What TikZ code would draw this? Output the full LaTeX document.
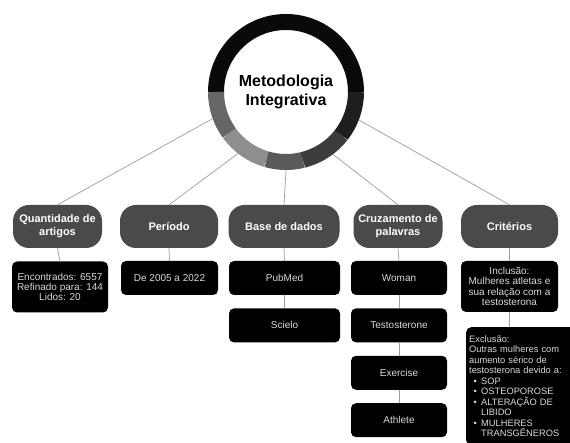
\documentclass[tikz,border=0pt]{standalone}
\usepackage{fontspec}
\setmainfont{Liberation Sans}
\usetikzlibrary{positioning}
\definecolor{headgray}{HTML}{4A4A4A}
\definecolor{linegray}{HTML}{9C9C9C}
\definecolor{boxtext}{HTML}{DADADA}
\definecolor{segA}{HTML}{0A0A0A}
\definecolor{segB}{HTML}{666666}
\definecolor{segC}{HTML}{8E8E8E}
\definecolor{segD}{HTML}{5A5A5A}
\definecolor{segE}{HTML}{3C3C3C}
\definecolor{segF}{HTML}{1E1E1E}
\newcommand{\exitem}[1]{\makebox[12pt][c]{\textbullet}#1}
\newcommand{\excont}[1]{\hspace*{12pt}#1}
\begin{document}
\begin{tikzpicture}[
    x=1pt, y=1pt,
    node distance=13pt,
    header/.style={rectangle, fill=headgray, text=white, rounded corners=16pt, minimum height=43pt,
        align=center, inner sep=2pt, font=\fontsize{11}{13}\selectfont\bfseries},
    leaf/.style={rectangle, fill=black, text=boxtext, rounded corners=5pt, minimum height=34pt,
        align=center, inner sep=2pt, font=\fontsize{10}{10.4}\selectfont},
    link/.style={draw=linegray, line width=0.7pt},
]
\useasboundingbox (0,0) rectangle (570,443);
\node[circle, minimum size=156pt, inner sep=0pt] (ring) at (286,351) {};
\node[header, minimum width=89pt] (qtd) at (57.5,216.5) {Quantidade de\\artigos};
\node[header, minimum width=98pt] (per) at (169,216.5) {Período};
\node[header, minimum width=111pt] (base) at (284,216.5) {Base de dados};
\node[header, minimum width=89pt] (cruz) at (398,216.5) {Cruzamento de\\palavras};
\node[header, minimum width=97pt] (crit) at (509.5,216.5) {Critérios};

\node[leaf, minimum width=96pt, minimum height=51pt] (encont) at (60,156) {Encontrados: 6557\\Refinado para: 144\\Lidos: 20};
\node[leaf, minimum width=97pt] (anos) at (169.5,165) {De 2005 a 2022};
\node[leaf, minimum width=111pt] (pubmed) at (284.5,165) {PubMed};
\node[leaf, minimum width=111pt, below=of pubmed] (scielo) {Scielo};
\node[leaf, minimum width=96pt] (woman) at (399,165) {Woman};
\node[leaf, minimum width=96pt, below=of woman] (testo) {Testosterone};
\node[leaf, minimum width=96pt, below=of testo] (exerc) {Exercise};
\node[leaf, minimum width=96pt, below=of exerc] (athl) {Athlete};
\node[leaf, minimum width=97pt, minimum height=51pt] (incl) at (509.5,156.5) {Inclusão:\\Mulheres atletas e\\sua relação com a\\testosterona};
\node[leaf, anchor=north west, align=left, text width=106pt, minimum height=118pt, inner xsep=3pt, inner ysep=3pt,
    font=\fontsize{9.3}{10.5}\selectfont] (excl) at (466,116)
    {Exclusão:\\Outras mulheres com\\aumento sérico de\\testosterona devido a:\\\exitem{SOP}\\\exitem{OSTEOPOROSE}\\\exitem{ALTERAÇÃO DE}\\\excont{LIBIDO}\\\exitem{MULHERES}\\\excont{TRANSGÊNEROS}};

% from the ring to the headers
\draw[link] (ring.200) -- (qtd.north);
\draw[link] (ring.232) -- (per.north);
\draw[link] (ring.south) -- (base.north);
\draw[link] (ring.307) -- (cruz.north);
\draw[link] (ring.339) -- (crit.north);
% down the columns
\draw[link] (qtd.south) -- (encont.north);
\draw[link] (per.south) -- (anos.north);
\draw[link] (base.south) -- (pubmed.north);
\draw[link] (pubmed.south) -- (scielo.north);
\draw[link] (cruz.south) -- (woman.north);
\draw[link] (woman.south) -- (testo.north);
\draw[link] (testo.south) -- (exerc.north);
\draw[link] (exerc.south) -- (athl.north);
\draw[link] (crit.south) -- (incl.north);
\draw[link] (incl.south) -- (incl.south |- excl.north);

% ring segments
\foreach \from/\to/\segcol in {0/180/segA, 180/216/segB, 216/254/segC, 254/284/segD, 284/322/segE, 322/360/segF}
    \draw[line width=16pt, \segcol] (ring.center) ++(\from:70) arc[start angle=\from, end angle=\to, radius=70];
\node[align=center, font=\fontsize{16}{19}\selectfont\bfseries] (title) at (ring.center) {Metodologia\\Integrativa};
\end{tikzpicture}
\end{document}
